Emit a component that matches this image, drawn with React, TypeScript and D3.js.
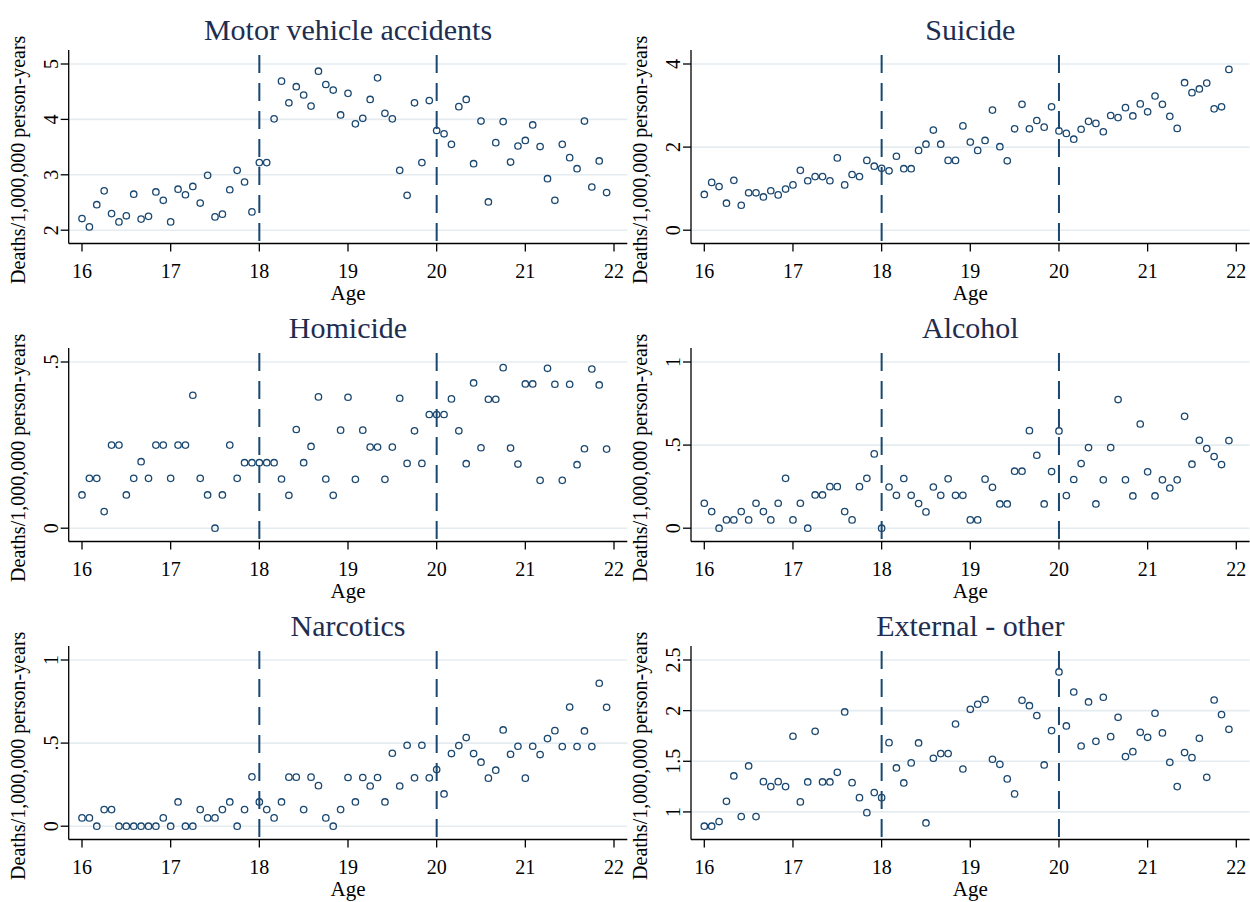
import * as d3 from "d3"

// monthly age bins, 16y0m .. 21y11m
const ages = d3.range(72).map((i) => 16 + i / 12)

const motorVehicle = [
  2.21, 2.06, 2.46, 2.71, 2.3, 2.15, 2.26, 2.65, 2.2, 2.25,
  2.69, 2.54, 2.15, 2.74, 2.64, 2.79, 2.49, 2.99, 2.24, 2.29,
  2.73, 3.08, 2.87, 2.33, 3.22, 3.22, 4.01, 4.69, 4.3, 4.59,
  4.44, 4.24, 4.87, 4.63, 4.53, 4.08, 4.47, 3.92, 4.02, 4.36,
  4.75, 4.11, 4.01, 3.08, 2.63, 4.3, 3.22, 4.34, 3.8, 3.74,
  3.55, 4.23, 4.36, 3.2, 3.97, 2.51, 3.58, 3.96, 3.23, 3.52,
  3.62, 3.9, 3.51, 2.93, 2.54, 3.55, 3.31, 3.11, 3.97, 2.78, 3.25, 2.68,
]
const suicide = [
  0.86, 1.15, 1.05, 0.65, 1.2, 0.6, 0.9, 0.9, 0.8, 0.95,
  0.85, 0.99, 1.09, 1.44, 1.19, 1.29, 1.29, 1.19, 1.74, 1.09,
  1.34, 1.29, 1.68, 1.54, 1.49, 1.43, 1.78, 1.48, 1.48, 1.92,
  2.07, 2.41, 2.07, 1.68, 1.68, 2.51, 2.12, 1.92, 2.16, 2.89,
  2.01, 1.67, 2.44, 3.03, 2.44, 2.64, 2.48, 2.97, 2.39, 2.33,
  2.19, 2.43, 2.62, 2.57, 2.37, 2.76, 2.71, 2.95, 2.75, 3.04,
  2.85, 3.23, 3.03, 2.74, 2.45, 3.55, 3.31, 3.4, 3.54, 2.92, 2.97, 3.87,
]
const homicide = [
  0.1, 0.15, 0.15, 0.05, 0.25, 0.25, 0.1, 0.15, 0.2, 0.15,
  0.25, 0.25, 0.15, 0.25, 0.25, 0.4, 0.15, 0.1, 0, 0.1,
  0.25, 0.15, 0.197, 0.197, 0.197, 0.197, 0.197, 0.148, 0.099, 0.297,
  0.197, 0.246, 0.395, 0.148, 0.099, 0.295, 0.394, 0.147, 0.295, 0.244,
  0.244, 0.147, 0.244, 0.391, 0.195, 0.293, 0.195, 0.342, 0.342, 0.342,
  0.389, 0.293, 0.194, 0.437, 0.242, 0.388, 0.388, 0.483, 0.241, 0.193,
  0.434, 0.434, 0.144, 0.481, 0.433, 0.144, 0.433, 0.191, 0.239, 0.479, 0.431, 0.238,
]
const alcohol = [
  0.15, 0.1, 0, 0.05, 0.05, 0.1, 0.05, 0.15, 0.1, 0.05,
  0.15, 0.3, 0.05, 0.15, 0, 0.2, 0.2, 0.25, 0.25, 0.1,
  0.05, 0.25, 0.3, 0.447, 0, 0.248, 0.198, 0.299, 0.198, 0.148,
  0.098, 0.248, 0.198, 0.297, 0.198, 0.198, 0.05, 0.05, 0.295, 0.246,
  0.146, 0.146, 0.343, 0.343, 0.587, 0.439, 0.146, 0.341, 0.585, 0.196,
  0.293, 0.389, 0.485, 0.146, 0.291, 0.485, 0.774, 0.291, 0.194, 0.627,
  0.339, 0.194, 0.291, 0.242, 0.291, 0.673, 0.385, 0.529, 0.479, 0.431, 0.383, 0.527,
]
const narcotics = [
  0.05, 0.05, 0, 0.1, 0.1, 0, 0, 0, 0, 0,
  0, 0.05, 0, 0.146, 0, 0, 0.1, 0.05, 0.05, 0.1,
  0.146, 0, 0.1, 0.297, 0.146, 0.1, 0.05, 0.146, 0.295, 0.295,
  0.1, 0.295, 0.244, 0.05, 0, 0.1, 0.293, 0.146, 0.293, 0.242,
  0.293, 0.146, 0.439, 0.242, 0.487, 0.291, 0.487, 0.291, 0.341, 0.194,
  0.437, 0.485, 0.533, 0.437, 0.385, 0.289, 0.337, 0.579, 0.433, 0.481,
  0.289, 0.481, 0.431, 0.527, 0.575, 0.479, 0.717, 0.479, 0.573, 0.479, 0.86, 0.715,
]
const externalOther = [
  0.859, 0.859, 0.905, 1.105, 1.355, 0.954, 1.454, 0.954, 1.299, 1.25,
  1.299, 1.25, 1.747, 1.099, 1.296, 1.796, 1.296, 1.296, 1.391, 1.987,
  1.289, 1.141, 0.993, 1.191, 1.141, 1.684, 1.434, 1.286, 1.484, 1.681,
  0.891, 1.53, 1.576, 1.576, 1.868, 1.424, 2.013, 2.063, 2.109, 1.52,
  1.47, 1.326, 1.178, 2.102, 2.049, 1.951, 1.464, 1.803, 2.382, 1.849,
  2.184, 1.651, 2.086, 1.697, 2.132, 1.743, 1.934, 1.546, 1.595, 1.786,
  1.737, 1.974, 1.78, 1.49, 1.25, 1.586, 1.536, 1.727, 1.342, 2.105, 1.961, 1.816,
]

const panelTitles = ["Motor vehicle accidents", "Suicide", "Homicide", "Alcohol", "Narcotics", "External - other"]
const panelSeries = [motorVehicle, suicide, homicide, alcohol, narcotics, externalOther]
const panelYTicks = [[2, 3, 4, 5], [0, 2, 4], [0, 0.5], [0, 0.5, 1], [0, 0.5, 1], [1, 1.5, 2, 2.5]]
const xTicks = [16, 17, 18, 19, 20, 21, 22]
const cutoffs = [18, 20]

const yTitle = "Deaths/1,000,000 person-years"
const xTitle = "Age"

const W = 1250
const H = 902
const navy = "#1a476f"
const font = "'Liberation Serif', 'Times New Roman', serif"

const colLeft = [68.7, 691]
const rowTop = [50, 348, 646]
const plotH = 193.5
const plotW = 558.6

const fmtTick = (v: number) => (v > 0 && v < 1 ? String(v).replace(/^0/, "") : String(v))

function Panel({ index }: { index: number }) {
  const left = colLeft[index % 2]
  const top = rowTop[Math.floor(index / 2)]
  const bottom = top + plotH
  const right = left + plotW
  const values = panelSeries[index]
  const ticks = panelYTicks[index]

  const x = d3.scaleLinear().domain([16, 22]).range([left + 13.3, left + 545.3])
  const yMin = Math.min(d3.min(values) ?? 0, ticks[0])
  const yMax = Math.max(d3.max(values) ?? 0, ticks[ticks.length - 1])
  const y = d3.scaleLinear().domain([yMin, yMax]).range([bottom - 13.3, top + 14])

  return (
    <g>
      {/* grid */}
      {ticks.map((t) => (
        <line key={`g${t}`} x1={left} x2={right} y1={y(t)} y2={y(t)} stroke="#e4ecf0" strokeWidth={1.6} />
      ))}
      {/* cutoff lines */}
      {cutoffs.map((c) => (
        <line
          key={`c${c}`}
          x1={x(c)}
          x2={x(c)}
          y1={top + 5}
          y2={bottom}
          stroke={navy}
          strokeWidth={2}
          strokeDasharray="18,10"
        />
      ))}
      {/* markers */}
      {values.map((v, i) => (
        <circle key={i} cx={x(ages[i])} cy={y(v)} r={3.2} fill="none" stroke={navy} strokeWidth={1.3} />
      ))}
      {/* axes */}
      <line x1={left} x2={left} y1={top} y2={bottom} stroke="#000" strokeWidth={1.3} />
      <line x1={left} x2={right} y1={bottom} y2={bottom} stroke="#000" strokeWidth={1.3} />
      {ticks.map((t) => (
        <g key={`yt${t}`}>
          <line x1={left - 8} x2={left} y1={y(t)} y2={y(t)} stroke="#000" strokeWidth={1.3} />
          <text
            transform={`translate(${left - 11},${y(t)}) rotate(-90)`}
            textAnchor="middle"
            fontSize={20}
            fontFamily={font}
          >
            {fmtTick(t)}
          </text>
        </g>
      ))}
      {xTicks.map((t) => (
        <g key={`xt${t}`}>
          <line x1={x(t)} x2={x(t)} y1={bottom} y2={bottom + 8} stroke="#000" strokeWidth={1.3} />
          <text x={x(t)} y={bottom + 34} textAnchor="middle" fontSize={20} fontFamily={font}>
            {t}
          </text>
        </g>
      ))}
      <text x={(left + right) / 2} y={bottom + 56} textAnchor="middle" fontSize={21} fontFamily={font}>
        {xTitle}
      </text>
      <text
        transform={`translate(${left - 44},${(top + bottom) / 2 + 13}) rotate(-90)`}
        textAnchor="middle"
        fontSize={20}
        fontFamily={font}
      >
        {yTitle}
      </text>
      <text x={(left + right) / 2} y={top - 10} textAnchor="middle" fontSize={30} fontFamily={font} fill="#1e2d50">
        {panelTitles[index]}
      </text>
    </g>
  )
}

export default function App() {
  return (
    <svg
      width={W}
      height={H}
      viewBox={`0 0 ${W} ${H}`}
      style={{ position: "absolute", left: 0, top: 0, display: "block", background: "#fff" }}
    >
      {panelTitles.map((_, i) => (
        <Panel key={i} index={i} />
      ))}
    </svg>
  )
}
